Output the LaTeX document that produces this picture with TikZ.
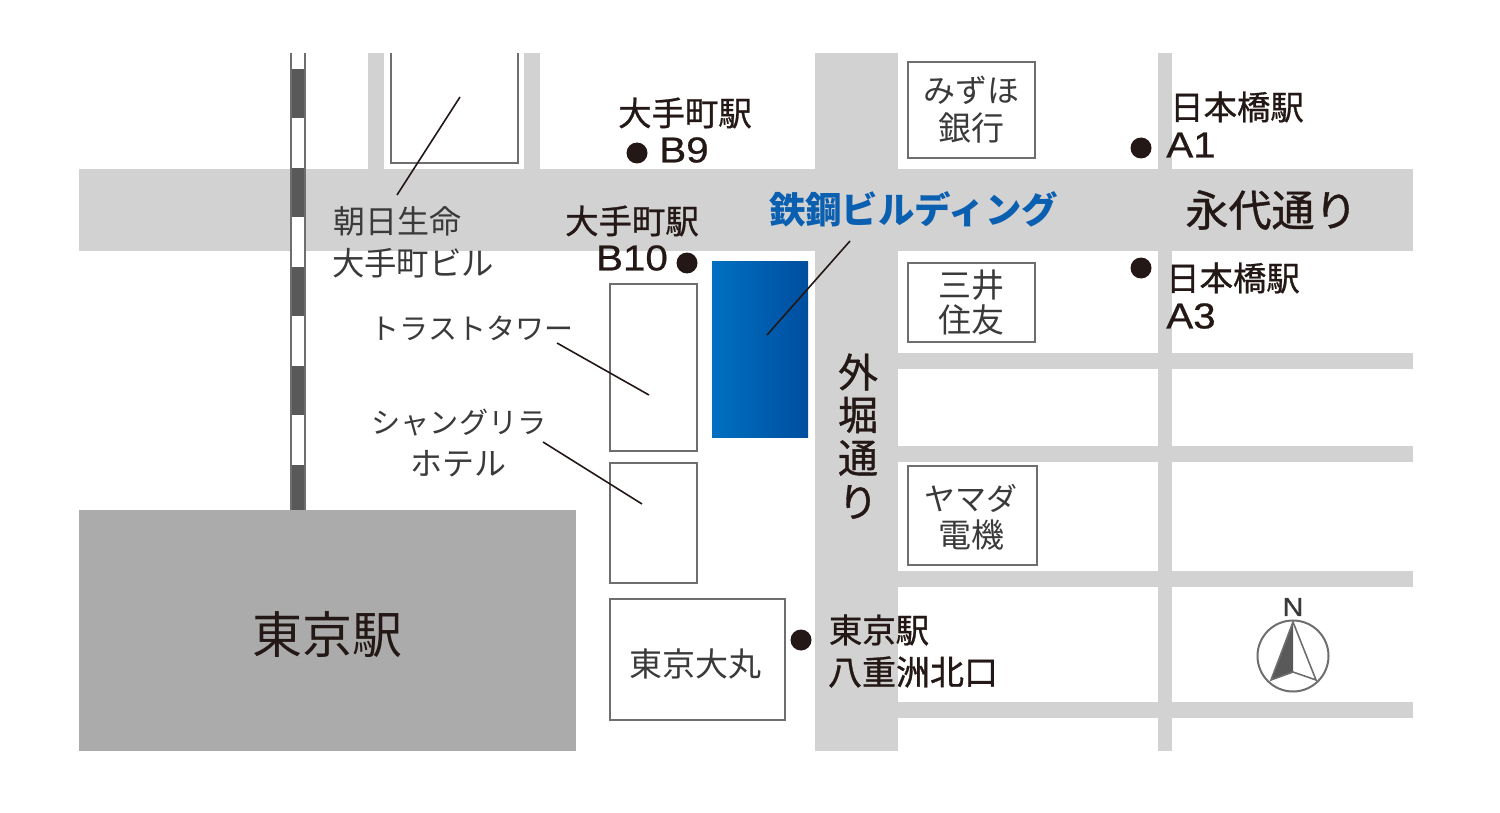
\documentclass[tikz,border=0pt]{standalone}
\usepackage{fontspec}
\setmainfont{Noto Sans CJK JP}
\newfontfamily\latinfont[FakeStretch=1.12,FakeBold=0.7]{Liberation Sans}
\newfontfamily\midfont[FakeBold=0.9]{Noto Sans CJK JP}
\definecolor{roadgray}{HTML}{D2D2D2}
\definecolor{stationgray}{HTML}{ABABAB}
\definecolor{railgray}{HTML}{595959}
\definecolor{boxgray}{HTML}{6E6E6E}
\definecolor{inkgray}{HTML}{3A3A3A}
\definecolor{ink}{HTML}{231815}
\definecolor{bldgblue}{HTML}{0B5FB0}
\definecolor{bldgleft}{HTML}{0070C0}
\definecolor{bldgright}{HTML}{004EA0}
\tikzset{
	road/.style={fill=roadgray},
	bldg/.style={draw=boxgray,line width=1.1pt,fill=white,inner sep=0pt},
	leader/.style={draw=ink,line width=0.8pt},
	spot/.style={circle,fill=ink,inner sep=0pt,minimum size=10.5pt},
	maptext/.style={inner sep=0pt,text=inkgray,font=\fontsize{#1}{#1}\selectfont},
	maptext/.default=16,
	stn/.style={inner sep=0pt,text=ink,font=\fontsize{#1}{#1}\selectfont\midfont},
	stn/.default=16.7,
	exitno/.style={inner sep=0pt,text=ink,font=\fontsize{18}{18}\selectfont\latinfont},
}
\begin{document}
\begin{tikzpicture}[x=0.5pt,y=-0.5pt]
\useasboundingbox (0,0) rectangle (1500,813);
	% roads
\fill [road] (79,169) rectangle (1413,251);
\fill [road] (815,53) rectangle (898,751);
\fill [road] (368,53) rectangle (384,169);
\fill [road] (524,53) rectangle (540,169);
\fill [road] (1158,53) rectangle (1172,751);
\foreach \y in {353,446,571,702}
	\fill [road] (898,\y) rectangle (1413,\y+15.5);
\fill [white] (700,251) rectangle (815,445);

	% railway
\fill [white] (291,53) rectangle (305,510);
\foreach \y in {69,168,267,366,465}
	\fill [railgray] (290,\y) rectangle (306,{min(\y+49,510)});
\draw [boxgray,line width=1pt] (291,53) -- (291,510) (305,53) -- (305,510);

	% station and buildings
\fill [stationgray] (79,510) rectangle (576,751);
\fill [left color=bldgleft,right color=bldgright] (712,261) rectangle (808,437);
\draw [draw=boxgray,line width=1.1pt] (391,53) -- (391,163) -- (518,163) -- (518,53);
\path
	(653.5,367.5) node (trust) [bldg,minimum width=43.5pt,minimum height=83.5pt] {}
	(653.5,523) node (shangri) [bldg,minimum width=43.5pt,minimum height=60pt] {}
	(697.5,659.5) node (daimaru) [bldg,minimum width=87.5pt,minimum height=60.5pt] {}
	(971.5,110) node (mizuho) [bldg,minimum width=63.5pt,minimum height=48pt] {}
	(971.5,302.5) node (mitsui) [bldg,minimum width=63.5pt,minimum height=39.5pt] {}
	(972.5,515.5) node (yamada) [bldg,minimum width=64.5pt,minimum height=49.5pt] {}
	;

	% exits
\path
	(637,153) node (b9) [spot] {}
	(687,263) node (b10) [spot] {}
	(1141,148) node (a1) [spot] {}
	(1141,268) node (a3) [spot] {}
	(801,640) node (yaesu) [spot] {}
	;

	% labels
\path
	(397,221) node (asahi1) [maptext] {朝日生命}
	(413,263) node (asahi2) [maptext=16.2] {大手町ビル}
	(472,328) node (trustname) [maptext=14.5] {トラストタワー}
	(459,423) node (shangri1) [maptext=14.6] {シャングリラ}
	(458,464) node (shangri2) [maptext=16] {ホテル}
	(327,635) node (tokyo) [maptext=25,text=ink] {東京駅}
	(695,664) node (daimaruname) [maptext=16.5] {東京大丸}
	(971,90) node (mizuho1) [maptext] {みずほ}
	(971,128) node (mizuho2) [maptext=16.5] {銀行}
	(971,285) node (mitsui1) [maptext=16.5] {三井}
	(971,320) node (mitsui2) [maptext=16.5] {住友}
	(971,498) node (yamada1) [maptext=15.5] {ヤマダ}
	(971,535) node (yamada2) [maptext=16.5] {電機}
	(1271.5,210) node (eitai) [stn=21.5] {永代通り}
	(858,372) node (soto1) [stn=20] {外}
	(858,415) node (soto2) [stn=20] {堀}
	(858,458) node (soto3) [stn=20] {通}
	(858,502) node (soto4) [stn=20] {り}
	(913.5,209) node (tekko) [inner sep=0pt,text=bldgblue,font=\fontsize{18.2}{18.2}\selectfont\bfseries] {鉄鋼ビルディング}
	(685,113) node (b9a) [stn] {大手町駅}
	(684,150) node (b9b) [exitno] {B9}
	(632,221) node (b10a) [stn] {大手町駅}
	(632,258) node (b10b) [exitno] {B10}
	(1237,107) node (a1a) [stn] {日本橋駅}
	(1191,145) node (a1b) [exitno] {A1}
	(1233,278) node (a3a) [stn] {日本橋駅}
	(1191,316) node (a3b) [exitno] {A3}
	(879,630) node (yaesu1) [stn] {東京駅}
	(913,672) node (yaesu2) [stn=17] {八重洲北口}
	;

	% leaders
\coordinate (asahitop) at (460,97);
\coordinate (asahiend) at (397,195);
\coordinate (tekkostart) at (850,241);
\coordinate (tekkoend) at (767,335);
\coordinate (truststart) at (557,343);
\coordinate (trustend) at (649,395);
\coordinate (shangristart) at (543,442);
\coordinate (shangriend) at (642,504);
\draw [leader] (asahitop) -- (asahiend);
\draw [leader] (tekkostart) -- (tekkoend);
\draw [leader] (truststart) -- (trustend);
\draw [leader] (shangristart) -- (shangriend);

	% north mark
\coordinate (apex) at (1293,622);
\coordinate (foot) at (1293,672);
\coordinate (footl) at (1271,680);
\coordinate (footr) at (1316,680);
\node (ring) [circle,draw=boxgray,line width=1pt,minimum size=35.5pt,inner sep=0pt] at (1293,656) {};
\fill [railgray] (apex) -- (footl) -- (foot) -- cycle;
\draw [boxgray,line width=0.8pt] (apex) -- (footr) -- (foot) -- (footl) -- cycle;
\node (north) [inner sep=0pt,text=inkgray,font=\fontsize{13}{13}\selectfont\latinfont] at (1293,607) {N};
\end{tikzpicture}
\end{document}
